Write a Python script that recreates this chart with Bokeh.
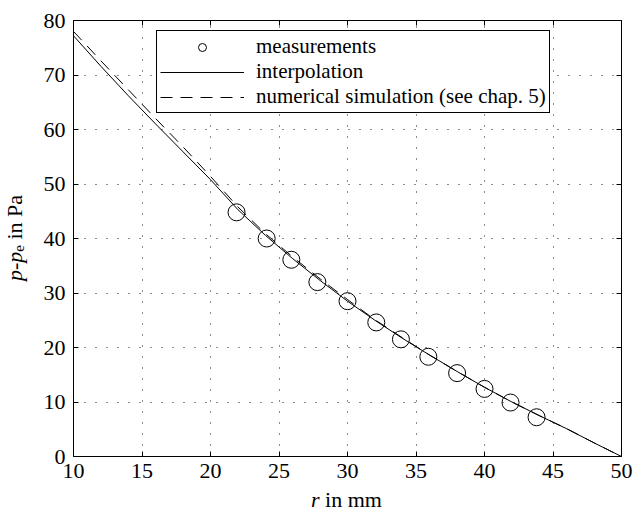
from bokeh.plotting import figure
from bokeh.models import LinearAxis, FixedTicker, Range1d, Legend, LegendItem, Div
from bokeh.layouts import column, row
from bokeh.embed import file_html
from bokeh.resources import INLINE

# measurements
r_meas = [21.9, 24.1, 25.9, 27.8, 30.0, 32.1, 33.9, 35.9, 38.0, 40.0, 41.9, 43.8]
p_meas = [44.8, 40.0, 36.1, 32.0, 28.5, 24.6, 21.5, 18.3, 15.3, 12.4, 9.9, 7.2]

# interpolation curve
r_interp = [10, 12, 14, 16, 18, 20, 22, 24, 26, 28, 30, 32, 34, 36, 38, 40, 42, 44, 46, 48, 50]
p_interp = [77.2, 71.6, 66.2, 61.0, 55.9, 50.8, 45.3, 40.6, 36.3, 32.3, 28.5, 25.0, 21.7, 18.6, 15.6, 12.7, 10.0, 7.5, 5.1, 2.5, 0.0]

# numerical simulation curve
r_sim = [10, 12, 14, 16, 18, 20, 22, 24, 26, 28, 30, 32, 34, 36, 38, 40, 42, 44, 46, 48, 50]
p_sim = [78.0, 72.6, 67.3, 62.0, 56.8, 51.4, 45.8, 40.9, 36.6, 32.6, 28.8, 25.1, 21.8, 18.6, 15.6, 12.7, 10.0, 7.5, 5.1, 2.5, 0.0]

x_ticks = [10, 15, 20, 25, 30, 35, 40, 45, 50]
y_ticks = [0, 10, 20, 30, 40, 50, 60, 70, 80]

FONT = "Times"

p = figure(width=593, height=488, output_backend="svg", toolbar_location=None,
           x_range=Range1d(10, 50), y_range=Range1d(0, 80),
           min_border_left=32, min_border_right=12, min_border_top=20, min_border_bottom=32)
p.background_fill_color = "white"
p.border_fill_color = "white"
p.outline_line_color = "black"
p.outline_line_width = 1

for ax, ticks in ((p.xaxis[0], x_ticks), (p.yaxis[0], y_ticks)):
    ax.ticker = FixedTicker(ticks=ticks)
    ax.major_tick_in = 5
    ax.major_tick_out = 0
    ax.minor_tick_line_color = None
    ax.axis_line_color = None
    ax.major_tick_line_color = "black"
    ax.major_label_text_font = FONT
    ax.major_label_text_font_size = "22px"
    ax.major_label_text_color = "black"

p.xaxis[0].major_label_standoff = 7
p.yaxis[0].major_label_standoff = 8

for loc, ticks in (("above", x_ticks), ("right", y_ticks)):
    ax = LinearAxis(ticker=FixedTicker(ticks=ticks), major_tick_in=5, major_tick_out=0,
                    minor_tick_line_color=None, axis_line_color=None,
                    major_label_overrides={t: "" for t in ticks},
                    major_label_text_color=None, major_label_standoff=0)
    p.add_layout(ax, loc)

for g in (p.xgrid[0], p.ygrid[0]):
    g.grid_line_color = "black"
    g.grid_line_dash = "1 10"
    g.grid_line_width = 1
    g.grid_line_alpha = 0.9
p.xgrid[0].ticker = FixedTicker(ticks=x_ticks)
p.ygrid[0].ticker = FixedTicker(ticks=y_ticks)

c = p.scatter(r_meas, p_meas, marker="circle", size=17, fill_color=None, line_color="black", line_width=1)
l1 = p.line(r_interp, p_interp, line_color="black", line_width=1)
l2 = p.line(r_sim, p_sim, line_color="black", line_width=1, line_dash="12 8")

legend = Legend(items=[LegendItem(label="measurements", renderers=[c]),
                       LegendItem(label="interpolation", renderers=[l1]),
                       LegendItem(label="numerical simulation (see chap. 5)", renderers=[l2])],
                location=(83, 343))
legend.border_line_color = "black"
legend.border_line_width = 1
legend.border_line_alpha = 1
legend.background_fill_alpha = 1
legend.label_text_font = FONT
legend.label_text_font_size = "21px"
legend.label_text_color = "black"
legend.glyph_width = 84
legend.glyph_height = 20
legend.label_height = 20
legend.spacing = 0
legend.padding = 3
legend.label_standoff = 12
legend.margin = 0
p.add_layout(legend, "center")

# axis titles with italic symbols and subscript, as real HTML text
ylab_html = ('<div style="position:absolute;left:3px;top:238px;writing-mode:vertical-rl;'
             'transform:translateY(-50%) rotate(180deg);white-space:nowrap;'
             'font-family:Times;font-size:22px;line-height:24px;color:black;">'
             '<i>p</i>-<i>p</i><span style="font-size:15px;vertical-align:-4px;">e</span> in Pa</div>')
xlab_html = ('<div style="position:absolute;left:72px;top:0px;width:549px;text-align:center;'
             'white-space:nowrap;font-family:Times;font-size:22px;line-height:23px;color:black;">'
             '<i>r</i> in mm</div>')

ydiv = Div(text=ylab_html, width=40, height=488, margin=0, styles={"overflow": "visible"})
xdiv = Div(text=xlab_html, width=633, height=23, margin=0, styles={"overflow": "visible"})

layout = column(row(ydiv, p, spacing=0), xdiv, spacing=0)

open("out.html", "w").write(file_html(layout, INLINE))
